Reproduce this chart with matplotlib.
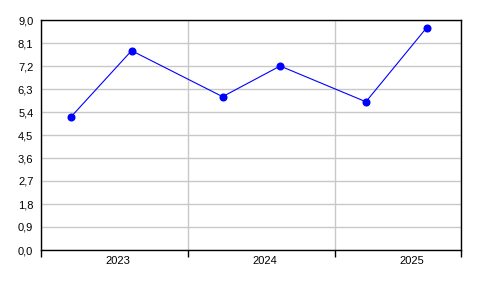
import matplotlib
matplotlib.use("Agg")
import matplotlib.pyplot as plt
import matplotlib.dates as mdates
import numpy as np
from datetime import date

dates = [date(2023, 3, 16), date(2023, 8, 14), date(2024, 3, 27),
         date(2024, 8, 17), date(2025, 3, 18), date(2025, 8, 16)]
values = [5.2, 7.8, 6.0, 7.2, 5.8, 8.7]
year_labels = ["2023", "2024", "2025"]
y_ticks = [0.0, 0.9, 1.8, 2.7, 3.6, 4.5, 5.4, 6.3, 7.2, 8.1, 9.0]

plt.rcParams['font.family'] = ['Liberation Sans', 'DejaVu Sans']

fig = plt.figure(figsize=(4.96, 2.96), dpi=100)
W, H = 496, 296
left, right, top, bottom = 41, 460.5, 20, 250
ax = fig.add_axes([left / W, 1 - bottom / H, (right - left) / W, (bottom - top) / H])

ax.plot(dates, values, color='#0000ff', linewidth=0.8, marker='o',
        markersize=4.8, markerfacecolor='#0000ff', markeredgecolor='#0000ff')

ax.set_xlim(date(2023, 1, 1), date(2025, 11, 8))
ax.set_ylim(0, 9)

boundaries = [date(2023, 1, 1), date(2024, 1, 1), date(2025, 1, 1), date(2025, 11, 8)]
ax.set_xticks(boundaries)
ax.set_xticklabels([])
label_pos = [date(int(y), 7, 10) for y in year_labels]
ax.set_xticks(label_pos, minor=True)
ax.set_xticklabels(year_labels, minor=True)
ax.tick_params(axis='x', which='major', length=5, width=1, color='black', direction='out')
ax.tick_params(axis='x', which='minor', length=0, labelsize=8, pad=4.5)

ax.set_yticks(y_ticks)
ax.set_yticklabels([f"{v:.1f}".replace('.', ',') for v in y_ticks])
ax.tick_params(axis='y', length=0, labelsize=8, pad=5.5)

ax.grid(True, which='major', color='#c8c8c8', linewidth=1)
ax.set_axisbelow(True)
for s in ax.spines.values():
    s.set_color('black')
    s.set_linewidth(1)

fig.savefig("out.png", dpi=100)
